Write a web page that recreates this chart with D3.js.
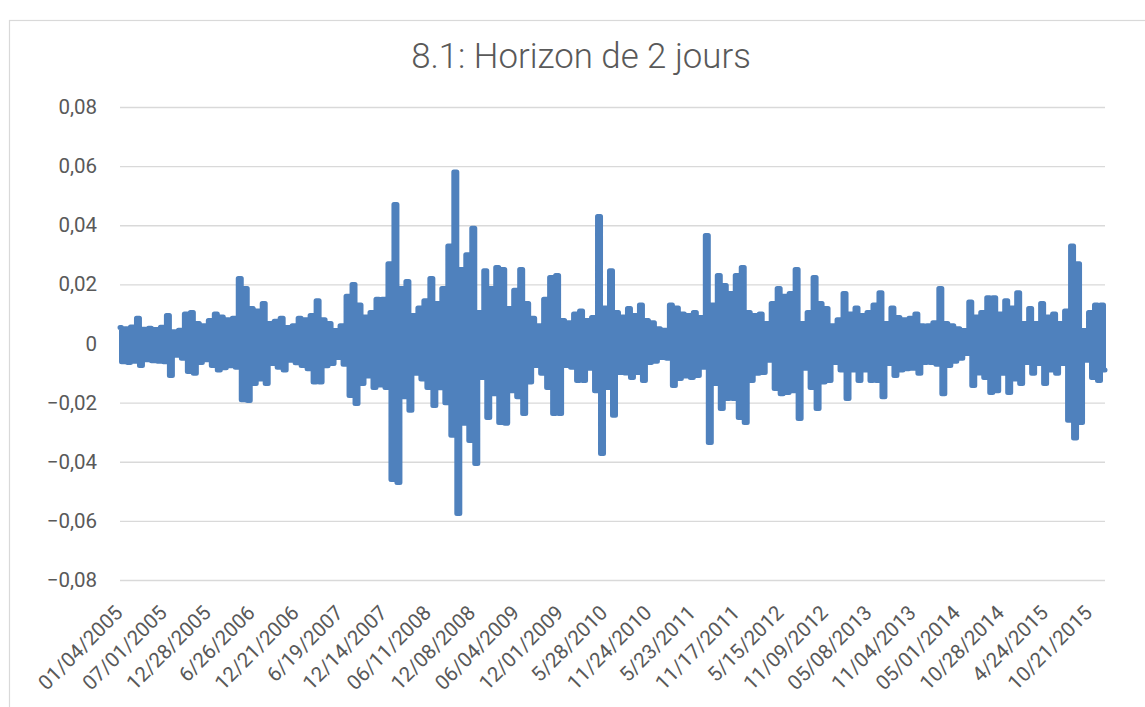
<!DOCTYPE html>
<html>
<head>
<meta charset="utf-8">
<script src="https://cdn.jsdelivr.net/npm/d3@7"></script>
<style>
	html, body { margin: 0; padding: 0; background: #ffffff; }
	svg { display: block; }
</style>
</head>
<body>
<div id="chart"></div>
<script>

var title = "8.1: Horizon de 2 jours";

// Category labels, one every 125 trading days
//
var tickLabels = [
	"01/04/2005", "07/01/2005", "12/28/2005", "6/26/2006", "12/21/2006", "6/19/2007",
	"12/14/2007", "06/11/2008", "12/08/2008", "06/04/2009", "12/01/2009", "5/28/2010",
	"11/24/2010", "5/23/2011", "11/17/2011", "5/15/2012", "11/09/2012", "05/08/2013",
	"11/04/2013", "05/01/2014", "10/28/2014", "4/24/2015", "10/21/2015"
];
var labelEvery = 125;
var nDays = 2795;

var yTicks = [ -0.08, -0.06, -0.04, -0.02, 0, 0.02, 0.04, 0.06, 0.08 ];

// Series (up / down swings, in order)
//
var values = [
	0.0054, -0.0062, 0.0050, -0.0064, 0.0056, -0.0060, 0.0085, -0.0074, 0.0048, -0.0055,
	0.0052, -0.0058, 0.0047, -0.0060, 0.0055, -0.0062, 0.0095, -0.0108, 0.0040, -0.0040,
	0.0045, -0.0050, 0.0100, -0.0095, 0.0105, -0.0101, 0.0068, -0.0064, 0.0060, -0.0055,
	0.0078, -0.0074, 0.0100, -0.0090, 0.0090, -0.0082, 0.0080, -0.0075, 0.0085, -0.0080,
	0.0220, -0.0190, 0.0186, -0.0193, 0.0118, -0.0135, 0.0110, -0.0120, 0.0135, -0.0135,
	0.0068, -0.0068, 0.0075, -0.0080, 0.0085, -0.0090, 0.0054, -0.0057, 0.0060, -0.0065,
	0.0085, -0.0074, 0.0080, -0.0085, 0.0095, -0.0130, 0.0145, -0.0130, 0.0080, -0.0075,
	0.0068, -0.0068, 0.0044, -0.0047, 0.0060, -0.0070, 0.0160, -0.0176, 0.0200, -0.0203,
	0.0130, -0.0135, 0.0090, -0.0110, 0.0105, -0.0149, 0.0150, -0.0140, 0.0150, -0.0149,
	0.0270, -0.0460, 0.0470, -0.0470, 0.0186, -0.0180, 0.0210, -0.0226, 0.0095, -0.0101,
	0.0120, -0.0120, 0.0145, -0.0149, 0.0220, -0.0210, 0.0135, -0.0150, 0.0186, -0.0200,
	0.0330, -0.0310, 0.0580, -0.0575, 0.0250, -0.0270, 0.0300, -0.0328, 0.0390, -0.0406,
	0.0105, -0.0115, 0.0246, -0.0250, 0.0186, -0.0170, 0.0257, -0.0267, 0.0250, -0.0270,
	0.0118, -0.0160, 0.0180, -0.0180, 0.0250, -0.0237, 0.0135, -0.0130, 0.0085, -0.0074,
	0.0060, -0.0101, 0.0150, -0.0149, 0.0223, -0.0237, 0.0230, -0.0237, 0.0078, -0.0074,
	0.0070, -0.0080, 0.0100, -0.0125, 0.0110, -0.0125, 0.0078, -0.0084, 0.0088, -0.0160,
	0.0430, -0.0372, 0.0120, -0.0149, 0.0246, -0.0243, 0.0105, -0.0098, 0.0090, -0.0100,
	0.0118, -0.0115, 0.0095, -0.0098, 0.0130, -0.0125, 0.0078, -0.0064, 0.0070, -0.0060,
	0.0050, -0.0047, 0.0045, -0.0050, 0.0130, -0.0142, 0.0120, -0.0118, 0.0100, -0.0110,
	0.0095, -0.0115, 0.0105, -0.0108, 0.0088, -0.0080, 0.0365, -0.0335, 0.0130, -0.0135,
	0.0230, -0.0220, 0.0196, -0.0186, 0.0169, -0.0186, 0.0230, -0.0250, 0.0257, -0.0267,
	0.0105, -0.0125, 0.0095, -0.0101, 0.0100, -0.0098, 0.0068, -0.0057, 0.0135, -0.0152,
	0.0186, -0.0170, 0.0160, -0.0166, 0.0169, -0.0160, 0.0250, -0.0254, 0.0068, -0.0084,
	0.0105, -0.0149, 0.0223, -0.0220, 0.0135, -0.0130, 0.0118, -0.0125, 0.0060, -0.0064,
	0.0080, -0.0090, 0.0169, -0.0186, 0.0100, -0.0090, 0.0120, -0.0125, 0.0095, -0.0090,
	0.0105, -0.0125, 0.0130, -0.0125, 0.0172, -0.0180, 0.0068, -0.0068, 0.0120, -0.0108,
	0.0088, -0.0090, 0.0080, -0.0085, 0.0085, -0.0084, 0.0100, -0.0101, 0.0060, -0.0064,
	0.0060, -0.0064, 0.0070, -0.0070, 0.0186, -0.0170, 0.0068, -0.0074, 0.0060, -0.0060,
	0.0050, -0.0050, 0.0044, -0.0034, 0.0140, -0.0142, 0.0090, -0.0100, 0.0105, -0.0115,
	0.0155, -0.0166, 0.0155, -0.0160, 0.0100, -0.0101, 0.0145, -0.0166, 0.0120, -0.0120,
	0.0172, -0.0135, 0.0068, -0.0064, 0.0118, -0.0101, 0.0068, -0.0068, 0.0135, -0.0135,
	0.0090, -0.0090, 0.0100, -0.0101, 0.0068, -0.0068, 0.0110, -0.0260, 0.0330, -0.0320,
	0.0270, -0.0267, 0.0044, -0.0057, 0.0105, -0.0115, 0.0130, -0.0125, 0.0130, -0.0090
];

var width = 1145;
var height = 707;

var margin = {
	top: 107,
	bottom: 127,
	left: 120,
	right: 40,
};

var size = {
	width: width - margin.left - margin.right,
	height: height - margin.top - margin.bottom,
};

var textColor = "#595959";
var gridColor = "#d9d9d9";
var lineColor = "#4f81bd";
var fontFamily = "Roboto, 'Open Sans', sans-serif";

var locale = d3.formatLocale( { decimal: ",", thousands: " ", grouping: [ 3 ], currency: [ "", "" ] } );
var yFormat = function( v )
{
	return v == 0 ? "0" : locale.format( ".2f" )( v );
};

var svg = d3.select( "#chart" ).append( "svg" )
	.attr( "width", width )
	.attr( "height", height );

svg.append( "rect" )
	.attr( "width", width )
	.attr( "height", height )
	.attr( "fill", "#ffffff" );

// Chart border
//
svg.append( "rect" )
	.attr( "x", 9.5 )
	.attr( "y", 20.5 )
	.attr( "width", width + 20 )
	.attr( "height", height + 20 )
	.attr( "fill", "none" )
	.attr( "stroke", gridColor )
	.attr( "stroke-width", 1.2 );

svg.append( "text" )
	.attr( "x", 581 )
	.attr( "y", 68 )
	.attr( "text-anchor", "middle" )
	.attr( "fill", textColor )
	.style( "font", "300 34.8px " + fontFamily )
	.text( title );

var scale = {
	x: d3.scaleLinear()
		.domain( [ 0, nDays - 1 ] )
		.range( [ 0, size.width ] ),
	y: d3.scaleLinear()
		.domain( [ -0.08, 0.08 ] )
		.range( [ size.height, 0 ] )
};

var root = svg.append( "g" )
	.attr( "transform", "translate(" + margin.left + "," + margin.top + ")" );

// Gridlines and y labels
//
var yAxis = root.append( "g" )
	.call( d3.axisLeft( scale.y )
		.tickValues( yTicks )
		.tickSize( -size.width )
		.tickPadding( 23 )
		.tickFormat( yFormat ) );

yAxis.select( ".domain" ).remove();
yAxis.selectAll( ".tick line" )
	.attr( "stroke", gridColor )
	.attr( "stroke-width", 1.3 );
yAxis.selectAll( ".tick text" )
	.attr( "fill", textColor )
	.style( "font", "20.5px " + fontFamily );

// x labels, rotated
//
var xAxis = root.append( "g" )
	.attr( "class", "x-labels" )
	.selectAll( "g" )
	.data( tickLabels )
	.enter()
	.append( "g" )
	.attr( "transform", function( d, i ) {
		return "translate(" + ( scale.x( i * labelEvery ) + 4 ) + "," + ( size.height + 34 ) + ") rotate(-45)";
	} );

xAxis.append( "text" )
	.attr( "text-anchor", "end" )
	.attr( "fill", textColor )
	.style( "font", "20.5px " + fontFamily )
	.text( function( d ) { return d; } );

// Series (dense daily swings: step joins keep the band solid)
//
var dayOf = function( i )
{
	return i * ( nDays - 1 ) / ( values.length - 1 );
};

var line = d3.line()
	.curve( d3.curveStep )
	.x( function( d, i ) { return scale.x( dayOf( i ) ); } )
	.y( function( d ) { return scale.y( d ); } );

root.append( "path" )
	.datum( values )
	.attr( "d", line )
	.attr( "fill", "none" )
	.attr( "stroke", lineColor )
	.attr( "stroke-width", 5 )
	.attr( "stroke-linejoin", "round" )
	.attr( "stroke-linecap", "round" );

</script>
</body>
</html>
